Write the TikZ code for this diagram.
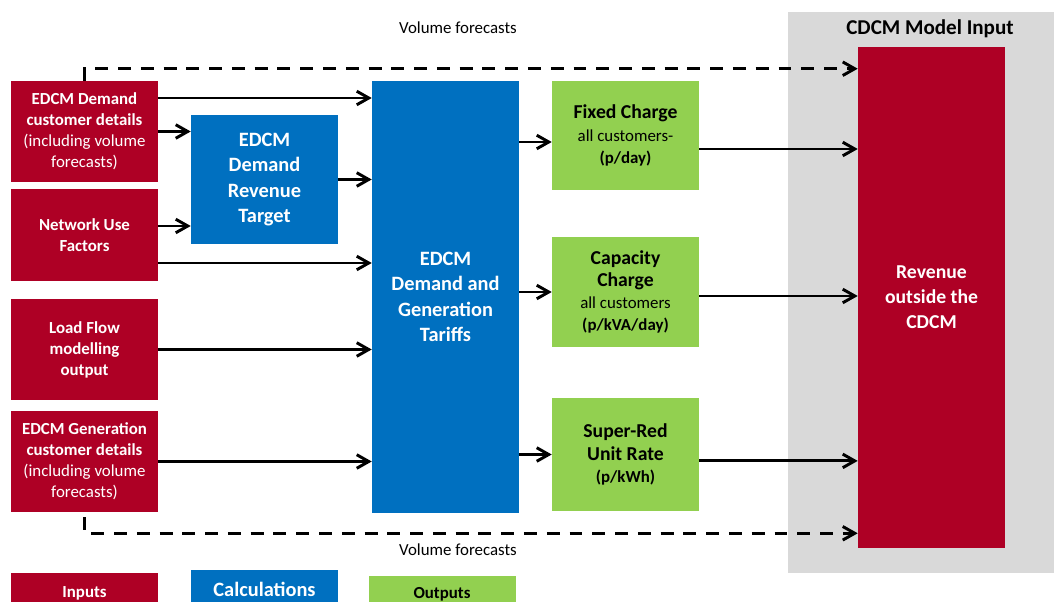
\documentclass[tikz,border=0pt]{standalone}
\usepackage{fontspec}
\setmainfont{Carlito}
\usetikzlibrary{arrows.meta}

\definecolor{inred}{HTML}{AE0025}
\definecolor{calcblue}{HTML}{0070C0}
\definecolor{outgreen}{HTML}{92D050}
\definecolor{cdcmgrey}{HTML}{D9D9D9}

\tikzset{
  inbox/.style={fill=inred, text=white, align=center, inner sep=0pt, minimum width=3.675cm,
    font=\bfseries\fontsize{12}{15}\selectfont},
  calcbox/.style={fill=calcblue, text=white, align=center, inner sep=0pt, minimum width=3.675cm,
    font=\bfseries\fontsize{14.5}{18}\selectfont},
  outbox/.style={fill=outgreen, align=center, inner sep=0pt, minimum width=3.675cm,
    font=\fontsize{12}{15.8}\selectfont},
  flow/.style={line width=2.1pt, -{Straight Barb[length=3mm,width=3.4mm]}},
  volflow/.style={flow, dash pattern=on 9.2pt off 7pt},
}

\begin{document}
\begin{tikzpicture}
\useasboundingbox (0,0) rectangle (26.35,-15.05);

% CDCM side
\node[fill=cdcmgrey, minimum width=6.8cm, minimum height=14.025cm, inner sep=0pt] (CdcmNBox) at (23.1,-7.3125) {};
\node[font=\bfseries\fontsize{15}{18}\selectfont] (CdcmNTitle) at (23.25,-0.725) {CDCM Model Input};
\node[fill=inred, text=white, align=center, inner sep=0pt, minimum width=3.675cm, minimum height=12.525cm,
  font=\bfseries\fontsize{14}{17.8}\selectfont] (RevN) at (23.2875,-7.4375) {Revenue\\outside the\\CDCM};

% inputs
\node[inbox, minimum height=2.525cm] (InN1) at (2.1125,-3.2875) {EDCM Demand\\customer details\\\mdseries(including volume\\\mdseries forecasts)};
\node[inbox, minimum height=2.3cm] (InN2) at (2.1125,-5.875) {Network Use\\Factors};
\node[inbox, minimum height=2.525cm] (InN3) at (2.1125,-8.7375) {Load Flow\\modelling\\output};
\node[inbox, minimum height=2.525cm] (InN4) at (2.1125,-11.5375) {EDCM Generation\\customer details\\\mdseries(including volume\\\mdseries forecasts)};

% calculations
\node[calcbox, minimum height=3.225cm] (CalcNTarget) at (6.6125,-4.4875) {EDCM\\Demand\\Revenue\\Target};
\node[calcbox, minimum height=10.8cm] (CalcNTariff) at (11.1375,-7.425) {EDCM\\Demand and\\Generation\\Tariffs};

% outputs
\node[outbox, minimum height=2.725cm] (OutNFixed) at (15.6375,-3.3875) {{\bfseries\fontsize{14}{18}\selectfont Fixed Charge}\\all customers-\\\textbf{(p/day)}};
\node[outbox, minimum height=2.75cm] (OutNCapacity) at (15.6375,-7.3) {{\bfseries\fontsize{14}{18.5}\selectfont Capacity}\\{\bfseries\fontsize{14}{18.5}\selectfont Charge}\\all customers\\\textbf{(p/kVA/day)}};
\node[outbox, minimum height=2.825cm] (OutNSuper) at (15.6375,-11.3625) {{\bfseries\fontsize{14}{18.5}\selectfont Super-Red}\\{\bfseries\fontsize{14}{18.5}\selectfont Unit Rate}\\\textbf{(p/kWh)}};

% legend
\node[inbox, minimum height=1.0cm] (KeyNInputs) at (2.1125,-14.825) {Inputs};
\node[calcbox, minimum height=1.0cm, font=\bfseries\fontsize{14.5}{18}\selectfont] (KeyNCalc) at (6.6125,-14.74) {Calculations};
\node[outbox, minimum height=0.9cm, font=\bfseries\fontsize{12}{15}\selectfont] (KeyNOutputs) at (11.05,-14.85) {Outputs};

% volume forecasts
\node[font=\fontsize{12}{14}\selectfont] (VolNTop) at (11.45,-0.7) {Volume forecasts};
\node[font=\fontsize{12}{14}\selectfont] (VolNBottom) at (11.45,-13.75) {Volume forecasts};
\draw[volflow] (InN1.north) |- ([yshift=-0.55cm]RevN.north west);
\draw[volflow] ([yshift=-0.125cm]InN4.south) |- ([yshift=0.375cm]RevN.south west);

% inputs to calculations
\draw[flow] ([yshift=0.8375cm]InN1.east) -- ([yshift=0.8375cm]InN1.east -| CalcNTariff.west);
\draw[flow] (InN1.east) -- (InN1.east -| CalcNTarget.west);
\draw[flow] ([yshift=0.225cm]InN2.east) -- ([yshift=0.225cm]InN2.east -| CalcNTarget.west);
\draw[flow] ([yshift=-0.7cm]InN2.east) -- ([yshift=-0.7cm]InN2.east -| CalcNTariff.west);
\draw[flow] (InN3.east) -- (InN3.east -| CalcNTariff.west);
\draw[flow] (InN4.east) -- (InN4.east -| CalcNTariff.west);
\draw[flow] (CalcNTarget.east) -- (CalcNTarget.east -| CalcNTariff.west);

% calculations to outputs
\draw[flow] ([yshift=-0.1625cm]OutNFixed.west -| CalcNTariff.east) -- ([yshift=-0.1625cm]OutNFixed.west);
\draw[flow] (OutNCapacity.west -| CalcNTariff.east) -- (OutNCapacity.west);
\draw[flow] (OutNSuper.west -| CalcNTariff.east) -- (OutNSuper.west);

% outputs to CDCM
\draw[flow] ([yshift=-0.3375cm]OutNFixed.east) -- ([yshift=-0.3375cm]OutNFixed.east -| RevN.west);
\draw[flow] ([yshift=-0.1cm]OutNCapacity.east) -- ([yshift=-0.1cm]OutNCapacity.east -| RevN.west);
\draw[flow] ([yshift=-0.16cm]OutNSuper.east) -- ([yshift=-0.16cm]OutNSuper.east -| RevN.west);
\end{tikzpicture}
\end{document}
